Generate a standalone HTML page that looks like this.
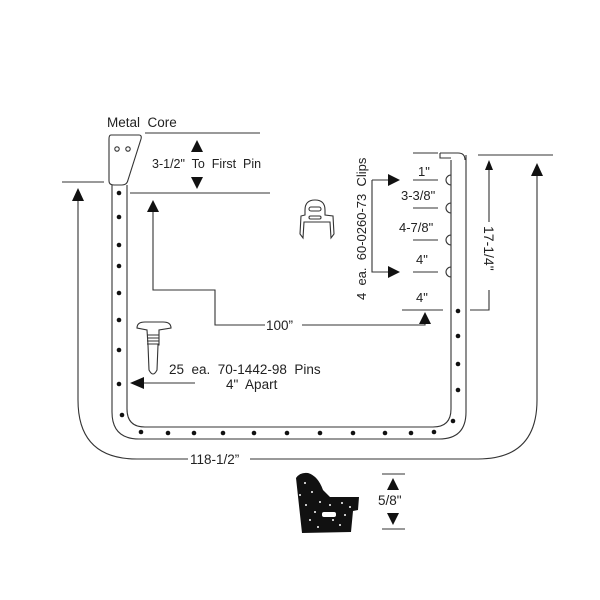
<!DOCTYPE html>
<html><head><style>html,body{margin:0;padding:0;background:#fff}svg{display:block}text{font-family:"Liberation Sans",sans-serif;fill:#222;white-space:pre}</style></head>
<body>
<svg width="600" height="600" viewBox="0 0 600 600" xmlns="http://www.w3.org/2000/svg" xml:space="preserve">
<g fill="none" stroke="#333" stroke-width="1.1">
<path d="M112,185 L112,412 Q112,439 139,439 L439,439 Q466,439 466,412 L466,155"/>
<path d="M127,185 L127,409 Q127,427 145,427 L433,427 Q451,427 451,409 L451,160"/>
<path d="M440,153 L458,153 Q465,153 465,160 M440,153 L440,158 L451,158"/>
<path d="M111,135 L139,135 Q142,135 141,139 L128,180 Q127,185 122,185 L114,185 Q109,185 109,181 L109,139 Q109,135 111,135 Z"/>
<circle cx="117" cy="149" r="2.2"/><circle cx="128" cy="149" r="2.2"/>
<path d="M451,175 A4,4 0 0 0 451,185 M451,203 A4,4 0 0 0 451,213 M451,235 A4,4 0 0 0 451,245 M451,267 A4,4 0 0 0 451,277"/>
<path d="M145,133 L260,133 M130,193 L270,193 M62,182 L104,182"/>
<path d="M78,195 L78,400 Q78,459 137,459 L188,459 M250,459 L478,459 Q537,459 537,400 L537,170"/>
<path d="M478,155 L553,155"/>
<path d="M489,170 L489,222 M489,290 L489,310 L470,310"/>
<path d="M153,210 L153,290 L215,290 L215,325 L265,325 M302,325 L425,325 L425,322"/>
<path d="M413,153 L438,153 M413,180 L438,180 M413,208 L438,208 M413,240 L438,240 M413,272 L438,272 M402,310 L443,310"/>
<path d="M372,180 L390,180 M372,180 L372,272 L390,272"/>
<path d="M142,383 L195,383"/>
<path d="M382,474 L405,474 M382,529 L405,529"/>
<path d="M305,210 Q305,200 315,200 Q325,200 325,210 L325,215 L333,216 L334,234 L331,238 L330,222 L304,222 L303,238 L300,234 L301,216 L305,215 Z"/>
<rect x="309" y="207" width="12" height="4" rx="2"/><rect x="309" y="216" width="12" height="3" rx="1.5"/>
<path d="M137,328 Q137,322 145,322 L163,322 Q171,322 171,328 L159,330 L159,345 L158,345 L157,370 Q153,378 149,370 L148,345 L147,330 Z"/>
<path d="M147,335 L159,335 M147,338 L159,338 M147,341 L159,341 M147,344 L159,344"/>
</g>
<g fill="#111">
<path d="M197,140 L191,152 L203,152 Z M197,189 L191,177 L203,177 Z"/>
<path d="M78,188 L72,201 L84,201 Z M153,200 L147,212 L159,212 Z"/>
<path d="M537,163 L531,176 L543,176 Z M489,160 L485,170 L493,170 Z"/>
<path d="M425,312 L419,324 L431,324 Z"/>
<path d="M400,180 L388,174 L388,186 Z M400,272 L388,266 L388,278 Z"/>
<path d="M130,383 L144,377 L144,389 Z"/>
<path d="M393,478 L387,490 L399,490 Z M393,525 L387,513 L399,513 Z"/>
</g>
<g fill="#111">
<circle cx="119" cy="193" r="2.3"/><circle cx="119" cy="217" r="2.3"/><circle cx="119" cy="245" r="2.3"/><circle cx="119" cy="266" r="2.3"/><circle cx="119" cy="293" r="2.3"/><circle cx="119" cy="320" r="2.3"/><circle cx="119" cy="350" r="2.3"/><circle cx="119" cy="384" r="2.3"/><circle cx="122" cy="415" r="2.3"/>
<circle cx="141" cy="432" r="2.3"/><circle cx="168" cy="433" r="2.3"/><circle cx="194" cy="433" r="2.3"/><circle cx="223" cy="433" r="2.3"/><circle cx="254" cy="433" r="2.3"/><circle cx="287" cy="433" r="2.3"/><circle cx="320" cy="433" r="2.3"/><circle cx="353" cy="433" r="2.3"/><circle cx="385" cy="433" r="2.3"/><circle cx="411" cy="433" r="2.3"/><circle cx="434" cy="432" r="2.3"/>
<circle cx="453" cy="421" r="2.3"/><circle cx="458" cy="390" r="2.3"/><circle cx="458" cy="364" r="2.3"/><circle cx="458" cy="336" r="2.3"/><circle cx="458" cy="311" r="2.3"/>
</g>
<path d="M296,478 Q300,472 308,473 Q318,476 323,490 L330,497 L359,497 L358,510 L353,511 L351,532 L302,533 Z" fill="#111"/>
<rect x="322" y="512" width="14" height="5" rx="2" fill="#fff"/>
<g fill="#fff"><circle cx="305" cy="483" r="1"/><circle cx="312" cy="492" r="1"/><circle cx="320" cy="502" r="1"/><circle cx="330" cy="505" r="1"/><circle cx="342" cy="503" r="1"/><circle cx="350" cy="507" r="1"/><circle cx="310" cy="520" r="1"/><circle cx="318" cy="527" r="1"/><circle cx="340" cy="525" r="1"/><circle cx="306" cy="505" r="1"/><circle cx="333" cy="520" r="1"/><circle cx="315" cy="512" r="1"/><circle cx="345" cy="515" r="1"/><circle cx="300" cy="495" r="1"/></g>
<text x="107" y="127" font-size="13.5">Metal  Core</text>
<text x="152" y="168" font-size="12.5">3-1/2"  To  First  Pin</text>
<text x="266" y="330" font-size="13.5">100”</text>
<text x="169" y="374" font-size="13.5">25  ea.  70-1442-98  Pins</text>
<text x="226" y="389" font-size="13.5">4"  Apart</text>
<text x="190" y="464" font-size="13.5">118-1/2”</text>
<text x="378" y="505" font-size="13.5">5/8"</text>
<text x="418" y="176" font-size="13">1"</text>
<text x="401" y="200" font-size="13">3-3/8"</text>
<text x="399" y="232" font-size="13">4-7/8"</text>
<text x="416" y="264" font-size="13">4"</text>
<text x="416" y="302" font-size="13">4"</text>
<text transform="translate(366,300) rotate(-90)" font-size="13">4  ea.  60-0260-73  Clips</text>
<text transform="translate(484,226) rotate(90)" font-size="14">17-1/4"</text>
</svg>
</body></html>
